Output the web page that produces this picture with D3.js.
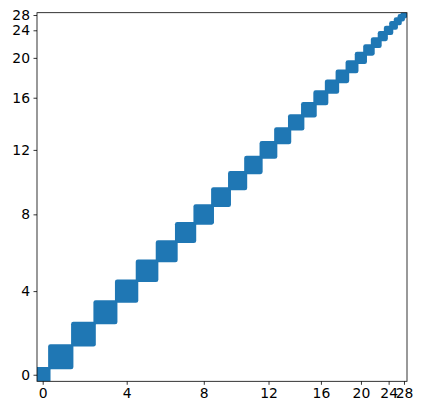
<!DOCTYPE html>
<html>
<head>
<meta charset="utf-8">
<script src="https://cdn.jsdelivr.net/npm/d3@7"></script>
<style>
  html, body { margin: 0; padding: 0; background: #fff; }
  svg { display: block; }
  text { font-family: "DejaVu Sans", sans-serif; }
</style>
</head>
<body>
<svg id="chart" width="422" height="415"></svg>
<script>
// ---- data ----
const categories = [0,1,2,3,4,5,6,7,8,9,10,11,12,13,14,15,16,17,18,19,20,21,22,23,24,25,26,27,28];
const spread = 0.45;      // half extent of the jittered points around each category
const xTicks = [0,4,8,12,16,20,24,28];
const yTicks = [0,4,8,12,16,20,24,28];
const xLim = [-0.45, 29.97];
const yLim = [-0.49, 29.30];

// ---- layout ----
const margin = {left: 37, top: 12.7};
const W = 370, H = 368.6;
const markerR = 2.3;
const color = "#1f77b4";

// custom function scale (forward transform of the axis)
const V = 30.97, C = 0.2272, TAU = 0.25;
const T = v => v - v * v / (2 * V) - C * Math.tanh(v / TAU);

function makeScale(lim, range) {
  const lin = d3.scaleLinear().domain([T(lim[0]), T(lim[1])]).range(range);
  const s = v => lin(T(v));
  s.copy = () => s;
  s.range = () => lin.range();
  s.domain = () => lim.slice();
  return s;
}
const x = makeScale(xLim, [0, W]);
const y = makeScale(yLim, [H, 0]);

const svg = d3.select("#chart");
svg.append("defs").append("clipPath").attr("id", "clip")
  .append("rect").attr("x", 0).attr("y", 0).attr("width", W).attr("height", H);

const g = svg.append("g").attr("transform", `translate(${margin.left},${margin.top})`);

g.append("g").attr("clip-path", "url(#clip)")
  .selectAll("rect.block")
  .data(categories)
  .join("rect")
  .attr("class", "block")
  .attr("x", d => x(d - spread) - markerR)
  .attr("width", d => x(d + spread) - x(d - spread) + 2 * markerR)
  .attr("y", d => y(d + spread) - markerR)
  .attr("height", d => y(d - spread) - y(d + spread) + 2 * markerR)
  .attr("rx", markerR).attr("ry", markerR)
  .attr("fill", color);

// axes
const xAxis = d3.axisBottom(x).tickValues(xTicks).tickSize(3.5).tickPadding(3.5).tickFormat(d3.format("d"));
const yAxis = d3.axisLeft(y).tickValues(yTicks).tickSize(3.5).tickPadding(3.5).tickFormat(d3.format("d"));

const gx = g.append("g").attr("transform", `translate(0,${H})`).call(xAxis);
const gy = g.append("g").call(yAxis);
[gx, gy].forEach(a => {
  a.select(".domain").remove();
  a.selectAll(".tick line").attr("stroke", "#000").attr("stroke-width", 0.8);
  a.selectAll(".tick text").attr("fill", "#000").style("font-size", "13.9px").style("font-family", "DejaVu Sans, sans-serif");
});

// frame
g.append("rect").attr("x", 0).attr("y", 0).attr("width", W).attr("height", H)
  .attr("fill", "none").attr("stroke", "#000").attr("stroke-width", 0.8);
</script>
</body>
</html>
